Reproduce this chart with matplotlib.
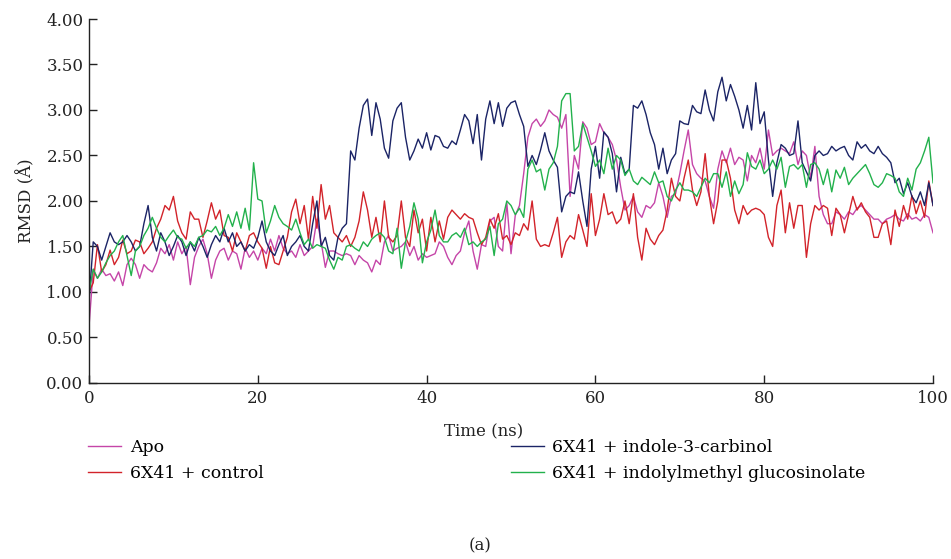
import matplotlib
matplotlib.use("Agg")
import matplotlib.pyplot as plt
import numpy as np

plt.rcParams['font.family'] = ['DejaVu Serif']

# sampling every 0.5 ns
time_ns = np.linspace(0, 100, 201)

apo = [
    0.62, 1.25, 1.15, 1.25, 1.18, 1.20, 1.12, 1.22, 1.07, 1.30,
    1.37, 1.30, 1.15, 1.30, 1.25, 1.22, 1.32, 1.48, 1.42, 1.52,
    1.35, 1.55, 1.42, 1.50, 1.08, 1.38, 1.50, 1.58, 1.42, 1.15,
    1.35, 1.45, 1.48, 1.35, 1.45, 1.42, 1.25, 1.48, 1.38, 1.45,
    1.35, 1.48, 1.42, 1.58, 1.45, 1.62, 1.48, 1.42, 1.45, 1.38,
    1.52, 1.40, 1.45, 1.50, 1.80, 1.55, 1.27, 1.45, 1.45, 1.42,
    1.40, 1.42, 1.40, 1.30, 1.40, 1.35, 1.32, 1.22, 1.35, 1.30,
    1.55, 1.62, 1.45, 1.48, 1.50, 1.55, 1.40, 1.50, 1.35, 1.42,
    1.38, 1.40, 1.42, 1.55, 1.50, 1.38, 1.30, 1.40, 1.45, 1.65,
    1.78, 1.45, 1.25, 1.52, 1.50, 1.78, 1.82, 1.50, 1.45, 1.98,
    1.42, 1.84, 1.95, 2.30, 2.70, 2.85, 2.90, 2.82, 2.88, 3.00,
    2.95, 2.92, 2.80, 2.95, 2.05, 2.50, 2.35, 2.87, 2.80, 2.62,
    2.65, 2.85, 2.75, 2.70, 2.62, 2.45, 2.15, 1.90, 1.95, 2.05,
    1.88, 1.82, 1.95, 1.92, 1.98, 2.20, 2.05, 1.82, 2.05, 2.08,
    2.30, 2.55, 2.78, 2.40, 2.30, 2.25, 2.22, 2.05, 1.92, 2.35,
    2.55, 2.42, 2.58, 2.40, 2.48, 2.45, 2.22, 2.50, 2.42, 2.58,
    2.35, 2.78, 2.50, 2.55, 2.58, 2.55, 2.52, 2.65, 2.40, 2.55,
    2.50, 2.25, 2.60, 2.05, 1.85, 1.75, 1.75, 1.88, 1.85, 1.80,
    1.88, 1.85, 1.92, 1.95, 1.90, 1.85, 1.80, 1.80, 1.75, 1.80,
    1.82, 1.85, 1.80, 1.78, 1.86, 1.80, 1.82, 1.78, 1.85, 1.82,
    1.65,
]

control = [
    1.00, 1.10, 1.52, 1.22, 1.30, 1.46, 1.30, 1.38, 1.57, 1.42,
    1.45, 1.57, 1.55, 1.42, 1.48, 1.55, 1.70, 1.80, 1.95, 1.90,
    2.05, 1.78, 1.65, 1.58, 1.88, 1.80, 1.80, 1.60, 1.78, 1.98,
    1.80, 1.90, 1.62, 1.60, 1.45, 1.65, 1.55, 1.45, 1.62, 1.65,
    1.55, 1.48, 1.26, 1.50, 1.32, 1.30, 1.45, 1.60, 1.88, 2.02,
    1.75, 1.95, 1.58, 2.05, 1.70, 2.18, 1.80, 1.95, 1.65, 1.60,
    1.55, 1.62, 1.50, 1.60, 1.78, 2.10, 1.90, 1.60, 1.82, 1.55,
    2.00, 1.60, 1.55, 1.62, 2.00, 1.60, 1.50, 1.90, 1.65, 1.80,
    1.45, 1.82, 1.55, 1.78, 1.58, 1.82, 1.90, 1.85, 1.80, 1.86,
    1.82, 1.80, 1.65, 1.52, 1.60, 1.80, 1.70, 1.86, 1.58, 1.62,
    1.52, 1.65, 1.62, 1.75, 1.68, 2.00, 1.58, 1.50, 1.52, 1.50,
    1.65, 1.82, 1.38, 1.55, 1.62, 1.58, 1.85, 1.68, 1.50, 2.08,
    1.62, 1.80, 2.08, 1.85, 1.88, 1.75, 1.80, 2.00, 1.75, 2.08,
    1.60, 1.35, 1.70, 1.58, 1.52, 1.62, 1.68, 1.90, 2.25, 2.05,
    2.00, 2.25, 2.45, 2.12, 1.95, 2.10, 2.52, 2.05, 1.75, 2.00,
    2.45, 2.45, 2.25, 1.90, 1.75, 1.95, 1.85, 1.90, 1.92, 1.90,
    1.85, 1.60, 1.50, 1.95, 2.12, 1.65, 1.98, 1.70, 1.95, 1.95,
    1.38, 1.75, 1.95, 1.90, 1.95, 1.92, 1.62, 1.92, 1.85, 1.65,
    1.85, 2.05, 1.90, 1.98, 1.88, 1.82, 1.60, 1.60, 1.75, 1.78,
    1.52, 1.90, 1.72, 1.95, 1.80, 2.06, 1.86, 2.00, 1.82, 2.22,
    1.95,
]

indole_carbinol = [
    0.90, 1.55, 1.50, 1.35, 1.50, 1.65, 1.55, 1.52, 1.55, 1.62,
    1.55, 1.45, 1.50, 1.75, 1.95, 1.60, 1.45, 1.65, 1.55, 1.40,
    1.50, 1.62, 1.55, 1.40, 1.55, 1.45, 1.60, 1.50, 1.38, 1.52,
    1.62, 1.55, 1.70, 1.55, 1.65, 1.50, 1.55, 1.45, 1.52, 1.48,
    1.60, 1.78, 1.55, 1.45, 1.40, 1.52, 1.62, 1.40, 1.50, 1.55,
    1.62, 1.50, 1.45, 1.75, 2.00, 1.50, 1.60, 1.40, 1.35, 1.60,
    1.70, 1.75, 2.55, 2.45, 2.80, 3.05, 3.12, 2.72, 3.08, 2.90,
    2.58, 2.47, 2.88, 3.02, 3.08, 2.70, 2.45, 2.55, 2.68, 2.58,
    2.75, 2.56, 2.72, 2.70, 2.60, 2.58, 2.66, 2.62, 2.78, 2.95,
    2.88, 2.63, 2.95, 2.45, 2.90, 3.10, 2.85, 3.08, 2.82, 3.02,
    3.08, 3.10, 2.95, 2.82, 2.38, 2.50, 2.40, 2.56, 2.75, 2.55,
    2.45, 2.37, 1.88, 2.05, 2.10, 2.08, 2.32, 2.00, 1.72, 2.35,
    2.60, 2.25, 2.76, 2.70, 2.52, 2.10, 2.48, 2.30, 2.35, 3.05,
    3.02, 3.10, 2.95, 2.75, 2.62, 2.35, 2.58, 2.30, 2.45, 2.52,
    2.88, 2.85, 2.84, 3.05, 2.98, 2.96, 3.22, 3.00, 2.88, 3.20,
    3.36, 3.10, 3.28, 3.15, 3.00, 2.80, 3.05, 2.78, 3.30, 2.85,
    2.98, 2.45, 2.05, 2.42, 2.62, 2.58, 2.50, 2.52, 2.88, 2.42,
    2.32, 2.22, 2.50, 2.55, 2.50, 2.52, 2.60, 2.55, 2.58, 2.60,
    2.50, 2.45, 2.65, 2.58, 2.62, 2.55, 2.52, 2.60, 2.52, 2.48,
    2.42, 2.20, 2.25, 2.08, 2.20, 2.05, 1.98, 2.10, 1.95, 2.20,
    1.95,
]

indolylmethyl = [
    1.00, 1.25, 1.15, 1.22, 1.32, 1.40, 1.45, 1.55, 1.62, 1.40,
    1.18, 1.45, 1.50, 1.62, 1.70, 1.82, 1.70, 1.60, 1.55, 1.62,
    1.68, 1.60, 1.58, 1.48, 1.55, 1.50, 1.60, 1.62, 1.68, 1.66,
    1.72, 1.62, 1.70, 1.85, 1.72, 1.88, 1.70, 1.92, 1.68, 2.42,
    2.02, 2.00, 1.65, 1.78, 1.95, 1.82, 1.75, 1.72, 1.68, 1.80,
    1.65, 1.52, 1.58, 1.48, 1.52, 1.50, 1.48, 1.35, 1.25, 1.38,
    1.35, 1.50, 1.52, 1.48, 1.45, 1.55, 1.50, 1.58, 1.62, 1.65,
    1.60, 1.45, 1.42, 1.70, 1.26, 1.55, 1.72, 1.98, 1.80, 1.32,
    1.55, 1.68, 1.90, 1.62, 1.55, 1.55, 1.62, 1.65, 1.60, 1.70,
    1.52, 1.55, 1.50, 1.55, 1.58, 1.72, 1.40, 1.75, 1.80, 2.00,
    1.95, 1.85, 1.92, 1.82, 2.35, 2.45, 2.32, 2.35, 2.12, 2.35,
    2.42, 2.60, 3.10, 3.18, 3.18, 2.55, 2.60, 2.85, 2.70, 2.55,
    2.38, 2.45, 2.30, 2.58, 2.35, 2.50, 2.45, 2.28, 2.35, 2.22,
    2.18, 2.26, 2.22, 2.18, 2.32, 2.20, 2.22, 2.05, 2.00, 2.12,
    2.20, 2.12, 2.12, 2.10, 2.05, 2.15, 2.25, 2.20, 2.30, 2.30,
    2.15, 2.32, 2.05, 2.22, 2.08, 2.18, 2.53, 2.38, 2.35, 2.45,
    2.30, 2.35, 2.45, 2.35, 2.48, 2.15, 2.38, 2.40, 2.35, 2.40,
    2.15, 2.40, 2.42, 2.35, 2.18, 2.35, 2.10, 2.34, 2.25, 2.37,
    2.18, 2.25, 2.30, 2.35, 2.40, 2.30, 2.18, 2.15, 2.20, 2.30,
    2.28, 2.25, 2.10, 2.05, 2.25, 2.12, 2.35, 2.42, 2.55, 2.70,
    2.20,
]

labels = ['Apo', '6X41 + control', '6X41 + indole-3-carbinol',
          '6X41 + indolylmethyl glucosinolate']
colors = ['#c545a8', '#d2232a', '#1b2466', '#22b14c']

fig = plt.figure(figsize=(9.51, 5.59), dpi=100)
ax = fig.add_axes([0.0936, 0.315, 0.8875, 0.651])

series = [apo, control, indole_carbinol, indolylmethyl]
lines = []
for vals, lab, col in zip(series, labels, colors):
    ln, = ax.plot(time_ns, vals, color=col, lw=1.0, label=lab)
    lines.append(ln)

ax.set_xlim(0, 100)
ax.set_ylim(0, 4)
ax.set_xticks(np.arange(0, 101, 20))
ax.set_yticks(np.arange(0, 4.01, 0.5))
ax.yaxis.set_major_formatter(matplotlib.ticker.FormatStrFormatter('%.2f'))
ax.tick_params(direction='in', length=6, width=1, labelsize=12, colors='#222222')
ax.tick_params(axis='x', pad=5)
ax.tick_params(axis='y', pad=4)
for s in ['top', 'right']:
    ax.spines[s].set_visible(False)
for s in ['left', 'bottom']:
    ax.spines[s].set_linewidth(1.0)
    ax.spines[s].set_color('#222222')

ax.set_xlabel('Time (ns)', fontsize=12, color='#222222')
ax.xaxis.set_label_coords(0.468, -0.11)
ax.set_ylabel('RMSD (Å)', fontsize=12, color='#222222')
ax.yaxis.set_label_coords(-0.063, 0.5)

leg_kw = dict(frameon=False, fontsize=12.5, handlelength=1.9, handletextpad=0.5,
              labelspacing=0.55, borderaxespad=0, borderpad=0)
fig.legend(lines[:2], labels[:2], loc='upper left',
           bbox_to_anchor=(0.093, 0.215), **leg_kw)
fig.legend(lines[2:], labels[2:], loc='upper left',
           bbox_to_anchor=(0.537, 0.215), **leg_kw)

fig.text(0.505, 0.023, '(a)', ha='center', va='center', fontsize=12, color='#222222')

fig.savefig('out.png', dpi=100)
